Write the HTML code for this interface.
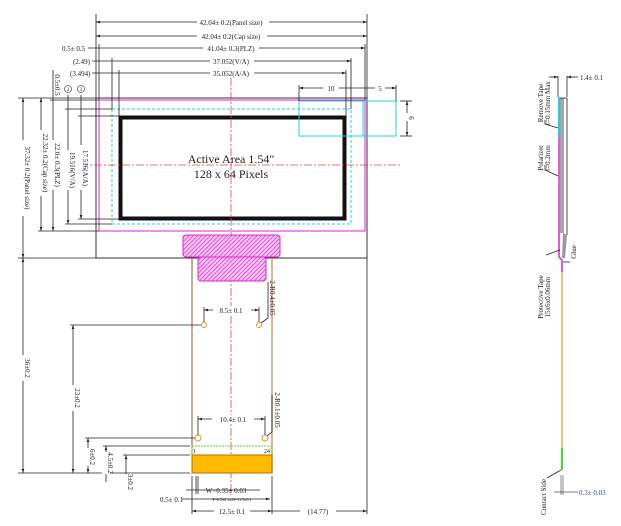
<!DOCTYPE html>
<html><head><style>
html,body{margin:0;padding:0;background:#fff;width:621px;height:526px;overflow:hidden}
svg{display:block}
text{font-family:"Liberation Serif",serif;font-size:7px;fill:#222}
.d{stroke:#222;stroke-width:0.8;fill:none}
</style></head><body>
<svg width="621" height="526" viewBox="0 0 621 526" xmlns="http://www.w3.org/2000/svg">
<defs>
<pattern id="h" width="3" height="3" patternUnits="userSpaceOnUse" patternTransform="rotate(45)">
<rect width="3" height="3" fill="#f8c8f0"/><line x1="0" y1="0" x2="0" y2="3" stroke="#e020d0" stroke-width="1.4"/></pattern>
<marker id="a" viewBox="0 0 6 6" refX="6" refY="3" markerWidth="5" markerHeight="5" orient="auto-start-reverse"><path d="M0,1 L6,3 L0,5z" fill="#222"/></marker>
</defs>
<!-- panel -->
<rect x="96" y="98" width="271" height="160" fill="none" stroke="#333" stroke-width="1"/>
<rect x="99" y="100" width="266" height="131" fill="none" stroke="#e020d0" stroke-width="1"/>
<rect x="112" y="109" width="239" height="115" fill="none" stroke="#20d0e0" stroke-width="1" stroke-dasharray="3,2"/>
<rect x="120.5" y="117.5" width="224" height="101" fill="none" stroke="#111" stroke-width="4"/>
<text x="231" y="163" text-anchor="middle" style="font-size:12px">Active Area 1.54"</text>
<text x="231" y="178" text-anchor="middle" style="font-size:12px">128 x 64 Pixels</text>
<rect x="299" y="101" width="97" height="35" fill="none" stroke="#20d0e0" stroke-width="1"/>
<line x1="363" y1="101" x2="363" y2="136" stroke="#20d0e0"/>
<!-- center lines -->
<line x1="231" y1="78" x2="231" y2="495" stroke="#f04040" stroke-width="0.8" stroke-dasharray="8,2,2,2"/>
<line x1="80" y1="165" x2="402" y2="165" stroke="#f04040" stroke-width="0.8" stroke-dasharray="8,2,2,2"/>
<!-- hatch -->
<rect x="183" y="235" width="97" height="22" rx="3" fill="url(#h)" stroke="#e020d0"/>
<rect x="198" y="257" width="68" height="24" rx="3" fill="url(#h)" stroke="#e020d0"/>
<!-- FPC -->
<line x1="192" y1="258" x2="192" y2="473" stroke="#8b5a2b" stroke-width="1"/>
<line x1="272" y1="258" x2="272" y2="473" stroke="#d0a070" stroke-width="1.5"/>
<rect x="192" y="446" width="80" height="27" fill="none" stroke="#60d040" stroke-dasharray="2,1"/>
<rect x="192" y="455" width="80" height="18" fill="#ffbb00" stroke="#b07000"/>
<text x="193" y="453" style="font-size:6px">1</text><text x="264" y="453" style="font-size:6px">24</text>
<g fill="#fff" stroke="#f09030"><circle cx="204" cy="325" r="2.5"/><circle cx="259" cy="325" r="2.5"/><circle cx="198" cy="438" r="3"/><circle cx="265" cy="438" r="3"/></g>
<!-- top dims -->
<g class="d">
<line x1="96" y1="14" x2="96" y2="98"/><line x1="367" y1="14" x2="367" y2="98"/>
<line x1="96" y1="22" x2="367" y2="22" marker-start="url(#a)" marker-end="url(#a)"/>
<line x1="96" y1="36" x2="367" y2="36" marker-start="url(#a)" marker-end="url(#a)"/>
<line x1="99" y1="44" x2="99" y2="100"/><line x1="365" y1="44" x2="365" y2="100"/>
<line x1="88" y1="48" x2="365" y2="48" marker-end="url(#a)"/>
<line x1="112" y1="58" x2="112" y2="109"/><line x1="351" y1="58" x2="351" y2="109"/>
<line x1="92" y1="61" x2="351" y2="61" marker-end="url(#a)"/>
<line x1="119" y1="70" x2="119" y2="116"/><line x1="346" y1="70" x2="346" y2="116"/>
<line x1="92" y1="73" x2="346" y2="73" marker-end="url(#a)"/>
<line x1="299" y1="85" x2="299" y2="101"/><line x1="396" y1="85" x2="396" y2="101"/>
<line x1="299" y1="88" x2="396" y2="88" marker-start="url(#a)" marker-end="url(#a)"/>
<line x1="400" y1="101" x2="412" y2="101"/><line x1="400" y1="136" x2="412" y2="136"/>
<line x1="407" y1="101" x2="407" y2="136" marker-start="url(#a)" marker-end="url(#a)"/>
<!-- left dims -->
<line x1="18" y1="98" x2="96" y2="98"/><line x1="18" y1="258" x2="96" y2="258"/>
<line x1="23" y1="98" x2="23" y2="258" marker-start="url(#a)" marker-end="url(#a)"/>
<line x1="41" y1="98" x2="41" y2="231" marker-start="url(#a)" marker-end="url(#a)"/>
<line x1="38" y1="231" x2="99" y2="231"/>
<line x1="53" y1="70" x2="53" y2="231" marker-end="url(#a)"/>
<line x1="50" y1="100" x2="99" y2="100"/>
<line x1="68" y1="95" x2="68" y2="224" marker-end="url(#a)"/>
<line x1="65" y1="109" x2="112" y2="109"/><line x1="65" y1="224" x2="112" y2="224"/>
<line x1="81" y1="95" x2="81" y2="219" marker-end="url(#a)"/>
<line x1="78" y1="116" x2="119" y2="116"/><line x1="78" y1="219" x2="119" y2="219"/>
<!-- bottom dims -->
<line x1="23" y1="258" x2="23" y2="473" marker-start="url(#a)" marker-end="url(#a)"/>
<line x1="18" y1="473" x2="190" y2="473"/>
<line x1="70" y1="325" x2="201" y2="325"/>
<line x1="73" y1="325" x2="73" y2="473" marker-start="url(#a)" marker-end="url(#a)"/>
<line x1="85" y1="438" x2="195" y2="438"/>
<line x1="88" y1="438" x2="88" y2="473" marker-start="url(#a)" marker-end="url(#a)"/>
<line x1="103" y1="446" x2="190" y2="446"/>
<line x1="106" y1="446" x2="106" y2="482" marker-start="url(#a)"/>
<line x1="123" y1="455" x2="190" y2="455"/>
<line x1="126" y1="455" x2="126" y2="490" marker-start="url(#a)"/>
<line x1="204" y1="310" x2="259" y2="310" marker-start="url(#a)" marker-end="url(#a)"/>
<line x1="204" y1="307" x2="204" y2="322"/><line x1="259" y1="307" x2="259" y2="322"/>
<line x1="198" y1="419" x2="265" y2="419" marker-start="url(#a)" marker-end="url(#a)"/>
<line x1="198" y1="416" x2="198" y2="435"/><line x1="265" y1="416" x2="265" y2="435"/>
<path d="M261,323 L268,318 L268,282"/><path d="M267,436 L272,432 L272,395"/>
<line x1="192" y1="476" x2="192" y2="514"/><line x1="272" y1="476" x2="272" y2="514"/><line x1="367" y1="258" x2="367" y2="514"/>
<line x1="196" y1="476" x2="196" y2="494"/><line x1="198" y1="476" x2="198" y2="494"/>
<line x1="186" y1="490" x2="260" y2="490"/>
<line x1="182" y1="499" x2="270" y2="499" marker-end="url(#a)"/>
<line x1="192" y1="511" x2="272" y2="511" marker-start="url(#a)" marker-end="url(#a)"/>
<line x1="272" y1="511" x2="367" y2="511" marker-end="url(#a)"/>
</g>
<g fill="#fff">
<rect x="197" y="18" width="72" height="8"/><rect x="197" y="32" width="70" height="8"/><rect x="203" y="44" width="56" height="8"/><rect x="210" y="57" width="44" height="8"/><rect x="210" y="69" width="44" height="8"/>
<rect x="323" y="84" width="16" height="8"/><rect x="375" y="84" width="10" height="8"/><rect x="404" y="113" width="8" height="8"/>
<rect x="213" y="306" width="38" height="8"/><rect x="212" y="415" width="42" height="8"/><rect x="300" y="507" width="36" height="8"/><rect x="214" y="507" width="36" height="8"/>
<rect x="19" y="140" width="8" height="76"/><rect x="37" y="130" width="8" height="66"/><rect x="49" y="140" width="8" height="50"/><rect x="64" y="150" width="8" height="40"/><rect x="77" y="145" width="8" height="45"/>
<rect x="19" y="355" width="8" height="26"/><rect x="69" y="385" width="8" height="26"/><rect x="84" y="448" width="8" height="18"/><rect x="102" y="452" width="8" height="22"/><rect x="122" y="474" width="8" height="16"/>
</g>
<g>
<text x="231" y="25" text-anchor="middle">42.04± 0.2(Panel size)</text>
<text x="231" y="39" text-anchor="middle">42.04± 0.2(Cap size)</text>
<text x="231" y="51" text-anchor="middle">41.04± 0.3(PLZ)</text>
<text x="231" y="64" text-anchor="middle">37.052(V/A)</text>
<text x="231" y="76" text-anchor="middle">35.052(A/A)</text>
<text x="62" y="51">0.5± 0.5</text><text x="73" y="64">(2.49)</text><text x="70" y="76">(3.494)</text>
<text x="331" y="91" text-anchor="middle">10</text><text x="380" y="91" text-anchor="middle">5</text>
<text x="231" y="313" text-anchor="middle">8.5± 0.1</text><text x="233" y="422" text-anchor="middle">10.4± 0.1</text>
<text x="226" y="493" text-anchor="middle">W=0.35± 0.03</text>
<text x="160" y="502">0.5± 0.1</text>
<text x="232" y="501" text-anchor="middle" style="font-size:4px">P=0.5±0.1x23=11.5±0.1</text>
<text x="232" y="514" text-anchor="middle">12.5± 0.1</text><text x="318" y="514" text-anchor="middle">(14.77)</text>
<circle cx="68" cy="89" r="3.5" fill="none" stroke="#222" stroke-width="0.6"/><circle cx="81" cy="89" r="3.5" fill="none" stroke="#222" stroke-width="0.6"/>
<text x="68" y="91" text-anchor="middle" style="font-size:5px">2</text><text x="81" y="91" text-anchor="middle" style="font-size:5px">3</text>
<g style="font-size:6.5px">
<text transform="translate(25,178) rotate(90)" text-anchor="middle">37.32± 0.2(Panel size)</text>
<text transform="translate(43,163) rotate(90)" text-anchor="middle">22.32± 0.2(Cap size)</text>
<text transform="translate(55,165) rotate(90)" text-anchor="middle">22.0± 0.3(PLZ)</text>
<text transform="translate(70,170) rotate(90)" text-anchor="middle">19.516(V/A)</text>
<text transform="translate(83,168) rotate(90)" text-anchor="middle">17.516(A/A)</text>
<text transform="translate(55,85) rotate(90)" text-anchor="middle">0.5±0.5</text>
<text transform="translate(409,118) rotate(90)" text-anchor="middle">6</text>
<text transform="translate(25,368) rotate(90)" text-anchor="middle">36±0.2</text>
<text transform="translate(75,398) rotate(90)" text-anchor="middle">23±0.2</text>
<text transform="translate(90,457) rotate(90)" text-anchor="middle">6±0.2</text>
<text transform="translate(108,463) rotate(90)" text-anchor="middle">4.5±0.2</text>
<text transform="translate(128,482) rotate(90)" text-anchor="middle">3±0.2</text>
<text transform="translate(270,298) rotate(90)" text-anchor="middle">2-R0.4±0.05</text>
<text transform="translate(275,410) rotate(90)" text-anchor="middle">2-R0.1±0.05</text>
</g>
</g>
<!-- side view -->
<g class="d">
<line x1="558" y1="76" x2="558" y2="97"/><line x1="567" y1="76" x2="567" y2="97"/>
<line x1="549" y1="77" x2="558" y2="77" marker-end="url(#a)"/><line x1="578" y1="77" x2="567" y2="77" marker-end="url(#a)"/>
<line x1="558" y1="98" x2="567" y2="98"/>
<line x1="561" y1="98" x2="561" y2="233"/><line x1="567" y1="98" x2="567" y2="235"/>
<line x1="563" y1="98" x2="563" y2="233"/>
</g>
<text x="580" y="80">1.4± 0.1</text>
<line x1="559" y1="98" x2="559" y2="137" stroke="#20d0e0" stroke-width="2"/>
<path d="M559,137 L559,257 L562,260 L562,272" stroke="#e020d0" stroke-width="1.5" fill="none"/>
<path d="M563,233 L567,235 L565,258 L562,258z" fill="#999"/>
<line x1="562" y1="272" x2="562" y2="448" stroke="#f09030" stroke-width="1.2"/>
<line x1="562" y1="448" x2="562" y2="470" stroke="#40e020" stroke-width="2"/>
<line x1="561" y1="475" x2="561" y2="495" stroke="#888"/><line x1="563" y1="475" x2="563" y2="495" stroke="#888"/>
<line x1="554" y1="492" x2="568" y2="492" stroke="#222" stroke-width="0.6"/><line x1="568" y1="492" x2="578" y2="492" stroke="#222" stroke-width="0.6"/>
<text x="579" y="495" style="fill:#1a4fa0">0.3± 0.03</text>
<g style="font-size:6px" class="d"><path d="M545,120 L545,124 L558,128"/><path d="M545,165 L545,170 L558,176"/><path d="M546,255 L560,250"/><path d="M570,262 L563,262"/><path d="M547,478 L561,470"/></g>
<g style="font-size:6px">
<text transform="translate(543,103) rotate(-90)" text-anchor="middle">Remove Tape</text>
<text transform="translate(550,103) rotate(-90)" text-anchor="middle">t=0.15mm Max</text>
<text transform="translate(543,158) rotate(-90)" text-anchor="middle">Polarizer</text>
<text transform="translate(550,158) rotate(-90)" text-anchor="middle">t=0.2mm</text>
<text transform="translate(543,297) rotate(-90)" text-anchor="middle">Protective Tape</text>
<text transform="translate(550,297) rotate(-90)" text-anchor="middle">15x6x0.06mm</text>
<text transform="translate(576,252) rotate(-90)" text-anchor="middle">Glue</text>
<text transform="translate(546,497) rotate(-90)" text-anchor="middle">Contact Side</text>
</g>
</svg>
</body></html>
